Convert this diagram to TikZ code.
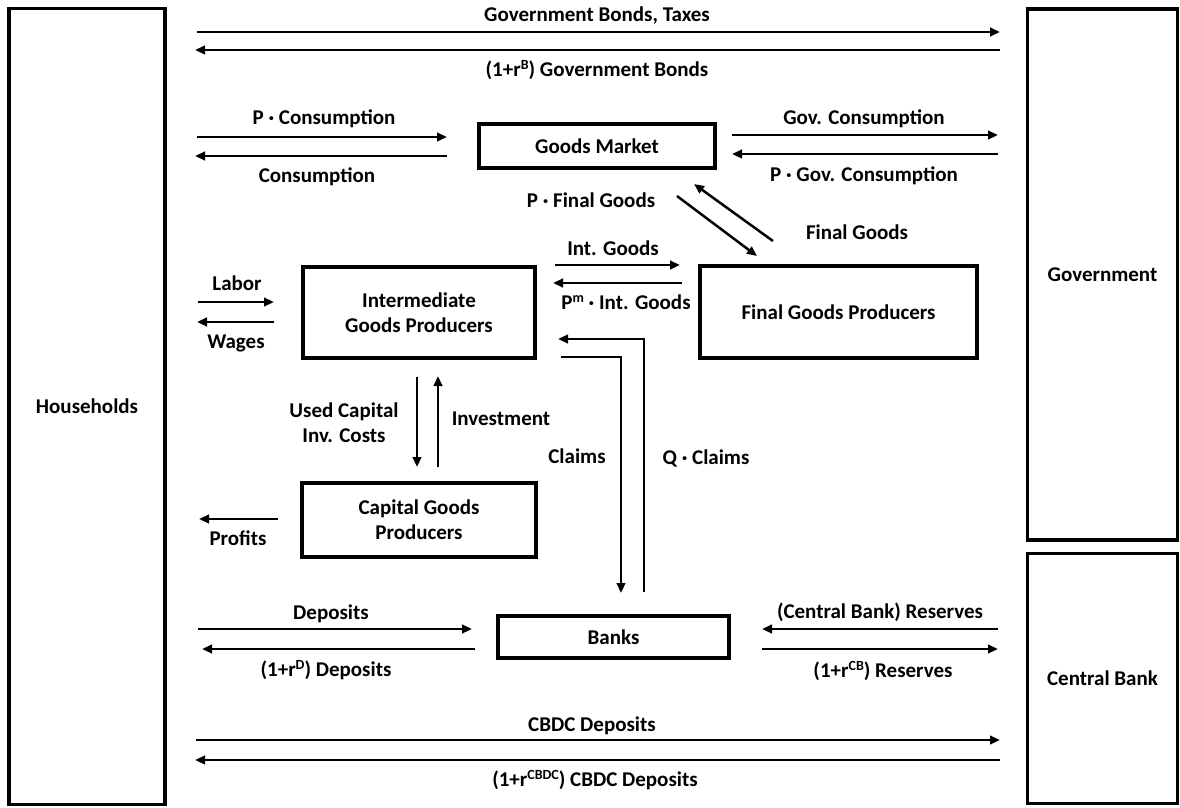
\documentclass[tikz,border=0pt]{standalone}
\usepackage{fontspec}
\setmainfont{Carlito}
\usetikzlibrary{arrows.meta}
\usetikzlibrary{positioning}
\newcommand{\rsup}[1]{\raisebox{7.5pt}{\fontsize{14}{14}\selectfont #1}}

\begin{document}
\begin{tikzpicture}[x=1pt,y=-1pt,
  every node/.style={font=\fontsize{21}{25}\selectfont\bfseries,color=black},
  sector/.style={draw,line width=3.5pt,inner sep=0pt,align=center},
  lbl/.style={inner sep=0pt,text height=13.5pt,text depth=0pt},
  flow/.style={line width=2.5pt,-{Triangle[length=10pt,width=8.5pt]}}]
\useasboundingbox (0,0) rectangle (1180,807);

% sectors
\node[sector,minimum width=156pt,minimum height=796pt](hh) at (87,406.5) {Households};
\node[sector,minimum width=150pt,minimum height=531pt](gov) at (1102.5,274.5) {Government};
\node[sector,minimum width=150pt,minimum height=250pt](cb) at (1102.5,678.5) {Central Bank};
\node[sector,minimum width=236pt,minimum height=44pt](gm) at (597,146) {Goods Market};
\node[sector,minimum width=232pt,minimum height=91pt](igp) at (419,312.5) {Intermediate\\Goods Producers};
\node[sector,minimum width=277pt,minimum height=92pt](fgp) at (838.5,312) {Final Goods Producers};
\node[sector,minimum width=234pt,minimum height=74pt](kgp) at (419,520) {Capital Goods\\Producers};
\node[sector,minimum width=231pt,minimum height=42pt](bk) at (613.5,637) {Banks};

% end points of the flows
\coordinate(gb1a) at (197,32);  \coordinate(gb1b) at (1000,32);
\coordinate(gb2a) at (1000,50); \coordinate(gb2b) at (195,50);
\coordinate(c1a) at (197,137);  \coordinate(c1b) at (447,137);
\coordinate(c2a) at (447,156);  \coordinate(c2b) at (195,156);
\coordinate(g1a) at (732,135);  \coordinate(g1b) at (998,135);
\coordinate(g2a) at (998,154);  \coordinate(g2b) at (732,154);
\coordinate(f1a) at (677,196);  \coordinate(f1b) at (757,256);
\coordinate(f2a) at (773,241);  \coordinate(f2b) at (694,184);
\coordinate(l1a) at (198,302);  \coordinate(l1b) at (274,302);
\coordinate(l2a) at (274,322);  \coordinate(l2b) at (197,322);
\coordinate(i1a) at (555,265);  \coordinate(i1b) at (680,265);
\coordinate(i2a) at (682,283);  \coordinate(i2b) at (553,283);
\coordinate(q1a) at (644,592);  \coordinate(q1b) at (644,339);  \coordinate(q1c) at (558,339);
\coordinate(q2a) at (561,357);  \coordinate(q2b) at (621,357);  \coordinate(q2c) at (621,593);
\coordinate(k1a) at (417,377);  \coordinate(k1b) at (417,467);
\coordinate(k2a) at (438,467);  \coordinate(k2b) at (438,376);
\coordinate(pra) at (278,519);  \coordinate(prb) at (199,519);
\coordinate(d1a) at (198,629);  \coordinate(d1b) at (472,629);
\coordinate(d2a) at (475,649);  \coordinate(d2b) at (202,649);
\coordinate(r1a) at (998,629);  \coordinate(r1b) at (762,629);
\coordinate(r2a) at (762,649);  \coordinate(r2b) at (998,649);
\coordinate(e1a) at (196,740);  \coordinate(e1b) at (1000,740);
\coordinate(e2a) at (1000,760); \coordinate(e2b) at (195,760);

\draw[flow] (gb1a)--(gb1b); \draw[flow] (gb2a)--(gb2b);
\draw[flow] (c1a)--(c1b); \draw[flow] (c2a)--(c2b);
\draw[flow] (g1a)--(g1b); \draw[flow] (g2a)--(g2b);
\draw[flow] (f1a)--(f1b); \draw[flow] (f2a)--(f2b);
\draw[flow] (l1a)--(l1b); \draw[flow] (l2a)--(l2b);
\draw[flow] (i1a)--(i1b); \draw[flow] (i2a)--(i2b);
\draw[flow] (q1a)--(q1b)--(q1c); \draw[flow] (q2a)--(q2b)--(q2c);
\draw[flow] (k1a)--(k1b); \draw[flow] (k2a)--(k2b);
\draw[flow] (pra)--(prb);
\draw[flow] (d1a)--(d1b); \draw[flow] (d2a)--(d2b);
\draw[flow] (r1a)--(r1b); \draw[flow] (r2a)--(r2b);
\draw[flow] (e1a)--(e1b); \draw[flow] (e2a)--(e2b);

% labels
\node[lbl](tgb1) at (597,15) {Government Bonds, Taxes};
\node[lbl](tgb2) at (597,70) {(1+r\rsup{B}) Government Bonds};
\node[lbl](tc1) at (324,118) {P · Consumption};
\node[lbl](tc2) at (317,176) {Consumption};
\node[lbl](tg1) at (864,118) {Gov. Consumption};
\node[lbl](tg2) at (864,175) {P · Gov. Consumption};
\node[lbl](tf1) at (591,201) {P · Final Goods};
\node[lbl](tf2) at (857,233) {Final Goods};
\node[lbl](tl1) at (237,284) {Labor};
\node[lbl](tl2) at (236,342) {Wages};
\node[lbl](ti1) at (613,249) {Int. Goods};
\node[lbl](ti2) at (626,303) {P\rsup{m} · Int. Goods};
\node[inner sep=0pt,align=center](tk1) at (344,423) {Used Capital\\Inv. Costs};
\node[lbl](tk2) at (501,419) {Investment};
\node[lbl](tq2) at (577,457) {Claims};
\node[lbl](tq1) at (706,458) {Q · Claims};
\node[lbl](tpr) at (238,539) {Profits};
\node[lbl](td1) at (331,613) {Deposits};
\node[lbl](td2) at (326,670) {(1+r\rsup{D}) Deposits};
\node[lbl](tr1) at (880,612) {(Central Bank) Reserves};
\node[lbl](tr2) at (883,671) {(1+r\rsup{CB}) Reserves};
\node[lbl](te1) at (592,725) {CBDC Deposits};
\node[lbl](te2) at (595,780) {(1+r\rsup{CBDC}) CBDC Deposits};
\end{tikzpicture}
\end{document}
